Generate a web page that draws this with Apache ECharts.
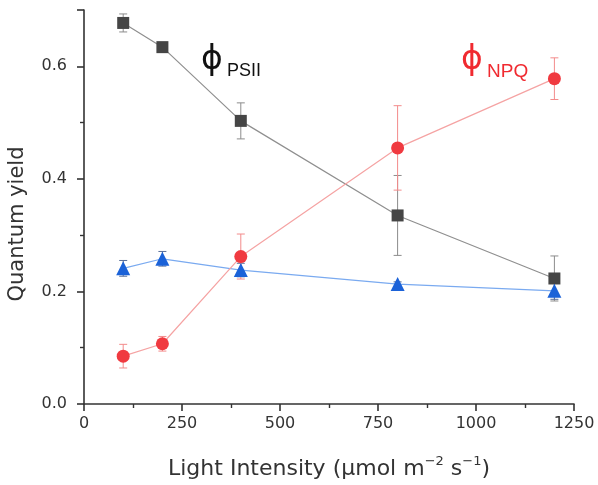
<!DOCTYPE html>
<html><head><meta charset="utf-8">
<script src="https://cdn.jsdelivr.net/npm/echarts@6/dist/echarts.min.js"></script>
<style>html,body{margin:0;padding:0;background:#fff}#c{width:598px;height:485px}</style>
</head><body><div id="c"></div>
<script>
const xVals = [100, 200, 400, 800, 1200];
const psii = [0.677, 0.634, 0.503, 0.335, 0.223];
const psiiErr = [0.016, 0.004, 0.032, 0.071, 0.040];
const npq = [0.085, 0.107, 0.262, 0.455, 0.578];
const npqErr = [0.021, 0.013, 0.040, 0.075, 0.037];
const phiNO = [0.241, 0.258, 0.238, 0.213, 0.201];
const phiNOErr = [0.014, 0.013, 0.012, 0.004, 0.015];
const xTicks = [0, 250, 500, 750, 1000, 1250];
const yTicks = [0.0, 0.2, 0.4, 0.6];

const chart = echarts.init(document.getElementById('c'));
const FONT = 'DejaVu Sans';

function pts(ys) { return xVals.map((x, i) => [x, ys[i]]); }
function errData(ys, es) { return xVals.map((x, i) => [x, ys[i] - es[i], ys[i] + es[i]]); }
function errSeries(ys, es, color, z) {
  return {
    type: 'custom', z: z, silent: true,
    data: errData(ys, es),
    encode: { x: 0, y: [1, 2] },
    renderItem: function (params, api) {
      const lo = api.coord([api.value(0), api.value(1)]);
      const hi = api.coord([api.value(0), api.value(2)]);
      const w = 4;
      const st = { stroke: color, lineWidth: 1 };
      return { type: 'group', children: [
        { type: 'line', shape: { x1: lo[0], y1: lo[1], x2: hi[0], y2: hi[1] }, style: st },
        { type: 'line', shape: { x1: lo[0] - w, y1: lo[1], x2: lo[0] + w, y2: lo[1] }, style: st },
        { type: 'line', shape: { x1: hi[0] - w, y1: hi[1], x2: hi[0] + w, y2: hi[1] }, style: st }
      ]};
    }
  };
}

const option = {
  animation: false,
  backgroundColor: '#fff',
  grid: { left: 84, right: 24, top: 10, bottom: 81, containLabel: false, outerBoundsMode: 'none' },
  xAxis: {
    type: 'value', min: 0, max: 1250, interval: 250,
    name: '{a|Light Intensity (μmol m}{s|−2}{a| s}{s|−1}{a|)}',
    nameLocation: 'middle', nameGap: 51,
    nameTextStyle: { rich: {
      a: { fontFamily: FONT, fontSize: 22, color: '#333', lineHeight: 25, verticalAlign: 'bottom' },
      s: { fontFamily: FONT, fontSize: 13, color: '#333', lineHeight: 25, verticalAlign: 'top', padding: [0, 0, 8, 0] }
    } },
    axisLine: { show: true, lineStyle: { color: '#333', width: 1.6 } },
    axisTick: { show: true, inside: false, length: 7, lineStyle: { color: '#333', width: 1.6 } },
    minorTick: { show: true, splitNumber: 2, length: 4, lineStyle: { color: '#333', width: 1.4 } },
    axisLabel: { fontFamily: FONT, fontSize: 16, color: '#333', margin: 12,
      formatter: v => xTicks.includes(v) ? String(v) : '' },
    splitLine: { show: false }
  },
  yAxis: {
    type: 'value', min: 0, max: 0.7, interval: 0.2,
    name: 'Quantum yield',
    nameLocation: 'middle', nameGap: 56,
    nameTextStyle: { fontFamily: FONT, fontSize: 21, color: '#333', padding: [0, 34, 0, 0] },
    axisLine: { show: true, lineStyle: { color: '#333', width: 1.6 } },
    axisTick: { show: true, inside: false, length: 7, lineStyle: { color: '#333', width: 1.6 } },
    minorTick: { show: true, splitNumber: 2, length: 4, lineStyle: { color: '#333', width: 1.4 } },
    axisLabel: { fontFamily: FONT, fontSize: 16, color: '#333', margin: 17,
      formatter: v => { const t = yTicks.find(k => Math.abs(k - v) < 1e-9); return t === undefined ? '' : t.toFixed(1); } },
    splitLine: { show: false }
  },
  series: [
    errSeries(psii, psiiErr, '#8c8c8c', 2),
    errSeries(phiNO, phiNOErr, '#5a6f99', 2),
    errSeries(npq, npqErr, '#f38b8b', 2),
    { type: 'line', data: pts(psii), symbol: 'rect', symbolSize: 12, z: 3,
      lineStyle: { color: '#8f8f8f', width: 1.2 }, itemStyle: { color: '#454545' } },
    { type: 'line', data: pts(phiNO), symbol: 'triangle', symbolSize: 14, z: 4,
      lineStyle: { color: '#7aaaf0', width: 1.2 }, itemStyle: { color: '#1b62d8' } },
    { type: 'line', data: pts(npq), symbol: 'circle', symbolSize: 13, z: 5,
      lineStyle: { color: '#f5a3a3', width: 1.2 }, itemStyle: { color: '#f03a40' } }
  ],
  graphic: [
    { type: 'text', left: 201, top: 44, style: { text: 'ϕ', fontFamily: 'DejaVu Sans', fontSize: 33, fill: '#111' } },
    { type: 'text', left: 227, top: 62, style: { text: 'PSII', fontFamily: 'Liberation Sans', fontSize: 18, fill: '#111' } },
    { type: 'text', left: 461, top: 44, style: { text: 'ϕ', fontFamily: 'DejaVu Sans', fontSize: 33, fill: '#f02a30' } },
    { type: 'text', left: 487, top: 62, style: { text: 'NPQ', fontFamily: 'Liberation Sans', fontSize: 19, fill: '#f02a30' } }
  ]
};
chart.setOption(option);
</script></body></html>
